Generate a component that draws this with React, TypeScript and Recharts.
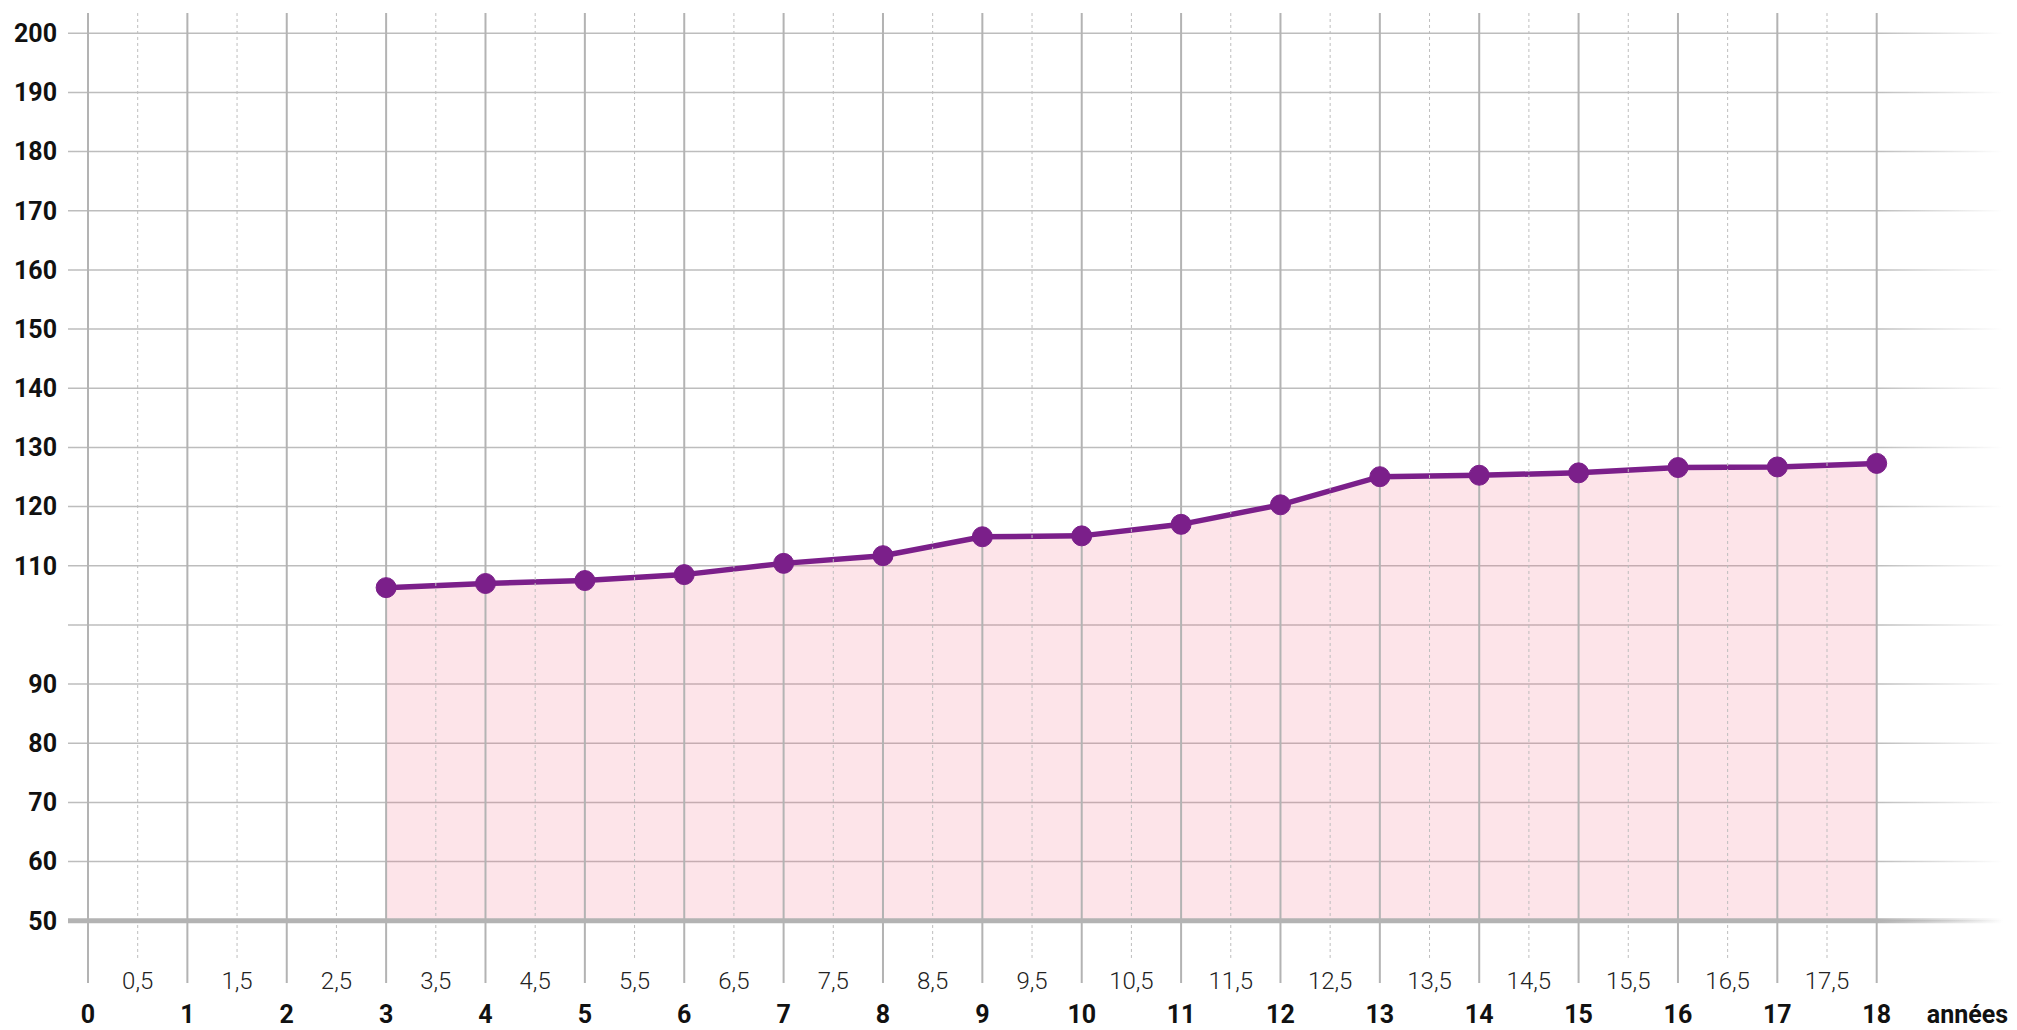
import React from 'react';
import { AreaChart, Area, XAxis, YAxis, CartesianGrid, ReferenceLine, Label } from 'recharts';

// ---- data ----
const AGES = [3, 4, 5, 6, 7, 8, 9, 10, 11, 12, 13, 14, 15, 16, 17, 18];
const HEIGHTS = [106.3, 107.0, 107.5, 108.5, 110.4, 111.7, 114.9, 115.05, 117.0, 120.3, 125.05, 125.3, 125.7, 126.6, 126.7, 127.3];
const X_INT_TICKS = [0, 1, 2, 3, 4, 5, 6, 7, 8, 9, 10, 11, 12, 13, 14, 15, 16, 17, 18];
const X_HALF_TICKS = [0.5, 1.5, 2.5, 3.5, 4.5, 5.5, 6.5, 7.5, 8.5, 9.5, 10.5, 11.5, 12.5, 13.5, 14.5, 15.5, 16.5, 17.5];
const Y_TICKS = [50, 60, 70, 80, 90, 100, 110, 120, 130, 140, 150, 160, 170, 180, 190, 200];
const HIDDEN_Y_LABELS = [100];
const X_UNIT = 'années';
const BASE_VALUE = 50;

const data = AGES.map((age, i) => ({ age, height: HEIGHTS[i] }));
const X_TICKS = [...X_INT_TICKS, ...X_HALF_TICKS].sort((a, b) => a - b);

// ---- layout ----
const W = 2017;
const H = 1030;
const PLOT_LEFT = 68;
const PLOT_RIGHT = 2003;
const PLOT_TOP = 13;
const PLOT_BOTTOM = 983;
const X_DOMAIN: [number, number] = [-0.2013, 19.271];
const Y_DOMAIN: [number, number] = [39.47, 203.43];
const HALF_LINE_BOTTOM = 43.7;
const FADE_START = 1877;

const PURPLE = '#7b1f8a';
const GRID = '#b3b3b3';
const FONT = 'Roboto, "Noto Sans", sans-serif';

const XTick = (props: any) => {
  const { x, y, payload } = props;
  const v = payload.value as number;
  const isInt = Number.isInteger(v);
  return (
    <text
      x={x}
      y={y + (isInt ? 40 : 6)}
      textAnchor="middle"
      fontFamily={FONT}
      fontSize={isInt ? 25 : 24}
      fontWeight={isInt ? 700 : 300}
      fill={isInt ? '#111' : '#222'}
    >
      {isInt ? String(v) : String(v).replace('.', ',')}
    </text>
  );
};

export default function App() {
  return (
    <div style={{ position: 'absolute', left: 0, top: 0, width: W, height: H, background: '#fff' }}>
      <AreaChart
        width={W}
        height={H}
        data={data}
        margin={{ top: PLOT_TOP, right: W - PLOT_RIGHT, left: 0, bottom: 0 }}
      >
        <defs>
          <linearGradient id="gridFade" gradientUnits="userSpaceOnUse" x1={FADE_START} y1={0} x2={PLOT_RIGHT} y2={0}>
            <stop offset="0" stopColor="#bdbdbd" stopOpacity={1} />
            <stop offset="1" stopColor="#bdbdbd" stopOpacity={0} />
          </linearGradient>
          <linearGradient id="axisFade" gradientUnits="userSpaceOnUse" x1={FADE_START} y1={0} x2={PLOT_RIGHT} y2={0}>
            <stop offset="0" stopColor={GRID} stopOpacity={1} />
            <stop offset="1" stopColor={GRID} stopOpacity={0} />
          </linearGradient>
        </defs>
        <CartesianGrid
          vertical={false}
          horizontal
          syncWithTicks
          stroke="url(#gridFade)"
          strokeWidth={1.5}
        />
        <XAxis
          type="number"
          dataKey="age"
          domain={X_DOMAIN}
          allowDataOverflow
          ticks={X_TICKS}
          interval={0}
          height={H - PLOT_BOTTOM}
          tickLine={false}
          axisLine={false}
          tickSize={0}
          tickMargin={0}
          tick={<XTick />}
        >
          <Label
            content={(p: any) => {
              const vb = p.viewBox;
              return (
                <text
                  x={vb.x + vb.width + 5}
                  y={vb.y + vb.height - 7}
                  textAnchor="end"
                  fontFamily={FONT}
                  fontSize={25}
                  fontWeight={700}
                  fill="#111"
                >
                  {X_UNIT}
                </text>
              );
            }}
          />
        </XAxis>
        <YAxis
          type="number"
          domain={Y_DOMAIN}
          allowDataOverflow
          ticks={Y_TICKS}
          interval={0}
          width={PLOT_LEFT}
          tickLine={false}
          axisLine={false}
          tickSize={0}
          tickMargin={11}
          tickFormatter={(v: number) => (HIDDEN_Y_LABELS.includes(v) ? '' : String(v))}
          tick={{ fontFamily: FONT, fontSize: 25, fontWeight: 700, fill: '#111' }}
        />
        {X_INT_TICKS.map((v) => (
          <ReferenceLine key={'i' + v} x={v} stroke={GRID} strokeWidth={2} />
        ))}
        {X_HALF_TICKS.map((v) => (
          <ReferenceLine
            key={'h' + v}
            segment={[{ x: v, y: HALF_LINE_BOTTOM }, { x: v, y: Y_DOMAIN[1] }]}
            stroke="#bdbdbd"
            strokeWidth={1}
            strokeDasharray="3 3"
          />
        ))}
        <ReferenceLine y={BASE_VALUE} stroke="url(#axisFade)" strokeWidth={5} />
        <Area
          type="linear"
          dataKey="height"
          baseValue={BASE_VALUE}
          stroke={PURPLE}
          strokeWidth={5.5}
          fill="#f25a74"
          fillOpacity={0.16}
          dot={{ r: 10, fill: PURPLE, stroke: PURPLE, strokeWidth: 1, fillOpacity: 1 }}
          activeDot={false}
          isAnimationActive={false}
        />
      </AreaChart>
    </div>
  );
}
